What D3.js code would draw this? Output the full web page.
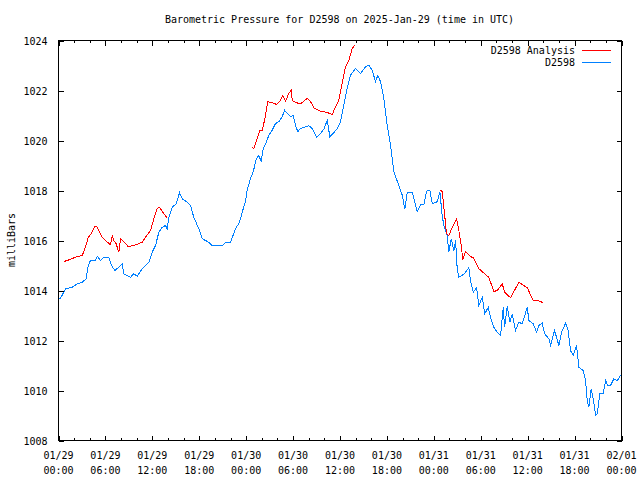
<!DOCTYPE html>
<html><head><meta charset="utf-8">
<script src="https://cdn.jsdelivr.net/npm/d3@7"></script>
<style>
html,body{margin:0;padding:0;background:#fff;}
text{font-family:"DejaVu Sans Mono","Liberation Mono",monospace;font-size:10px;fill:#000;}
</style></head>
<body>
<svg id="chart" width="640" height="480"></svg>
<script>
// Hours since 2025-01-29 00:00 UTC
const blueHours = [0,0.26,0.90,1.75,2.39,3.03,3.54,3.80,4.09,4.73,4.95,5.37,5.79,6.43,6.78,7.20,7.71,8.15,8.35,9.21,9.63,10.07,10.71,11.55,11.98,12.41,12.83,13.26,13.69,13.90,14.11,14.54,15.05,15.48,15.82,16.46,16.88,17.30,17.94,18.38,19.22,19.66,20.94,21.36,22.00,22.64,23.15,23.49,23.92,24.13,24.56,24.90,25.32,25.62,25.92,26.18,26.60,26.90,27.33,27.75,28.18,28.61,28.91,29.25,29.67,30.02,30.31,30.61,30.95,31.59,32.01,32.45,33.00,33.51,33.93,34.37,34.70,35.13,35.65,36.07,36.49,36.92,37.35,37.99,38.63,39.27,39.69,40.12,40.54,40.84,41.18,41.61,42.04,42.46,42.88,43.52,43.96,44.29,44.60,45.24,45.88,46.30,46.72,47.07,47.49,47.80,48.43,48.77,49.07,49.28,49.71,49.92,50.22,50.56,50.78,50.99,51.20,51.63,52.05,52.48,52.69,53.04,53.46,53.76,54.19,54.52,54.96,55.25,55.67,56.11,56.53,56.88,57.04,57.39,57.72,58.03,58.45,58.87,59.31,59.95,60.15,60.71,61.14,61.43,61.86,62.16,62.71,62.93,63.44,63.99,64.33,64.85,65.14,65.48,65.83,66.25,66.55,67.11,67.40,67.62,67.82,68.13,68.46,68.68,68.90,69.23,69.67,69.96,70.25,70.60,71.02,71.46,71.88];
const bluePressure = [1013.68,1013.69,1014.07,1014.13,1014.27,1014.33,1014.47,1015.00,1015.20,1015.20,1015.37,1015.20,1015.33,1015.33,1015.00,1014.80,1014.93,1015.07,1014.67,1014.53,1014.67,1014.57,1014.87,1015.13,1015.53,1015.80,1016.33,1016.53,1016.60,1016.47,1016.93,1017.33,1017.47,1017.91,1017.67,1017.53,1017.40,1016.93,1016.47,1016.07,1015.93,1015.80,1015.80,1015.91,1015.93,1016.47,1016.73,1017.13,1017.56,1018.01,1018.48,1018.75,1019.28,1019.41,1019.15,1019.68,1019.95,1020.21,1020.41,1020.68,1020.75,1020.95,1021.21,1021.08,1020.95,1021.01,1020.61,1020.35,1020.48,1020.55,1020.59,1020.48,1020.12,1020.28,1020.45,1020.81,1020.15,1020.28,1020.48,1020.75,1021.41,1022.08,1022.61,1022.88,1022.68,1022.95,1023.01,1022.81,1022.35,1022.61,1022.35,1021.68,1020.61,1019.81,1018.75,1018.21,1017.81,1017.25,1017.92,1017.92,1017.15,1017.44,1017.44,1017.97,1018.01,1017.48,1017.55,1017.95,1017.00,1016.60,1016.20,1015.53,1016.07,1015.60,1016.00,1014.87,1014.53,1014.60,1014.73,1014.91,1014.40,1013.93,1014.11,1013.40,1013.73,1013.07,1013.33,1012.93,1012.53,1012.33,1012.20,1013.33,1012.53,1013.36,1012.73,1013.07,1012.40,1012.73,1012.67,1013.33,1012.80,1012.67,1012.33,1012.60,1012.69,1012.27,1012.07,1011.80,1012.40,1011.80,1012.33,1012.69,1012.47,1011.60,1011.40,1011.80,1010.93,1010.80,1010.40,1009.60,1009.33,1010.07,1009.53,1009.00,1009.07,1009.87,1009.87,1010.40,1010.20,1010.20,1010.47,1010.40,1010.60];

// null = gap in the analysis series
const redHours = [0.68,1.11,2.17,3.03,3.45,3.80,4.09,4.64,4.95,5.59,6.01,6.65,6.87,7.07,7.38,7.71,7.93,8.35,8.91,9.63,10.71,11.13,11.77,12.19,12.62,12.92,13.47,13.90,
  19.0,
  24.77,24.98,25.41,25.75,26.05,26.35,26.77,27.33,27.88,28.39,28.69,29.03,29.45,29.76,29.89,30.31,30.95,31.81,32.23,32.74,33.51,34.37,35.01,35.43,35.85,36.28,36.71,37.13,37.56,37.86,
  43.0,
  48.77,49.07,49.37,49.62,49.92,50.35,50.90,51.20,51.50,51.71,52.05,52.69,53.04,53.76,54.61,55.03,55.67,56.11,56.75,57.04,57.81,58.87,59.95,60.71,61.30,61.99];
const redPressure = [1015.16,1015.20,1015.33,1015.40,1015.73,1016.13,1016.23,1016.57,1016.53,1016.13,1016.00,1015.83,1016.20,1016.00,1015.87,1015.53,1016.07,1015.96,1015.76,1015.80,1015.93,1016.13,1016.40,1016.87,1017.29,1017.33,1017.07,1016.91,
  null,
  1019.71,1019.68,1020.08,1020.41,1020.41,1020.81,1021.55,1021.52,1021.44,1021.61,1021.79,1021.57,1021.88,1022.01,1021.61,1021.52,1021.47,1021.68,1021.55,1021.28,1021.17,1021.12,1021.04,1021.35,1021.61,1022.28,1022.95,1023.21,1023.68,1023.81,
  null,
  1018.00,1017.97,1017.07,1016.27,1016.20,1016.53,1016.87,1016.40,1015.80,1015.23,1015.57,1015.36,1015.31,1014.87,1014.64,1014.53,1013.96,1014.00,1014.27,1013.93,1013.71,1014.33,1014.11,1013.60,1013.60,1013.51];

const yTicks = [1008,1010,1012,1014,1016,1018,1020,1022,1024];
const xMajorHours = [0,6,12,18,24,30,36,42,48,54,60,66,72];
const xLabelDates = ["01/29","01/29","01/29","01/29","01/30","01/30","01/30","01/30","01/31","01/31","01/31","01/31","02/01"];
const xLabelTimes = ["00:00","06:00","12:00","18:00","00:00","06:00","12:00","18:00","00:00","06:00","12:00","18:00","00:00"];
const xMinorHours = d3.range(0, 73, 2);

const titleText = "Barometric Pressure for D2598 on 2025-Jan-29 (time in UTC)";
const yLabelText = "milliBars";
const seriesNames = ["D2598 Analysis", "D2598"];
const seriesColors = ["#ff0000", "#0080ff"];

const L = 58, R = 621, T = 40, B = 440;
const svg = d3.select("#chart");
const x = d3.scaleLinear().domain([0, 72]).range([L, R]);
const y = d3.scaleLinear().domain([1008, 1024]).range([B, T]);

const g = svg.append("g").attr("transform", "translate(0.5,0.5)");

// data lines (clipped to plot)
svg.append("clipPath").attr("id", "clip").append("rect")
  .attr("x", L).attr("y", T).attr("width", R - L + 1).attr("height", B - T + 1);

const line = d3.line()
  .defined(d => d.p != null)
  .x(d => x(d.h)).y(d => y(d.p));

const blueData = blueHours.map((h, i) => ({h, p: bluePressure[i]}));
const redData = redHours.map((h, i) => ({h, p: redPressure[i]}));

const dataG = g.append("g").attr("clip-path", "url(#clip)");
dataG.append("path").datum(blueData).attr("d", line)
  .attr("fill", "none").attr("stroke", seriesColors[1]).attr("stroke-width", 1)
  .attr("shape-rendering", "crispEdges");
dataG.append("path").datum(redData).attr("d", line)
  .attr("fill", "none").attr("stroke", seriesColors[0]).attr("stroke-width", 1)
  .attr("shape-rendering", "crispEdges");

// axes via d3 axis generators (inward ticks, gnuplot style)
const axG = g.append("g").attr("shape-rendering", "crispEdges");
const yLeft = d3.axisLeft(y).tickValues(yTicks).tickSize(-5).tickPadding(11).tickFormat(d3.format("d"));
const yRight = d3.axisRight(y).tickValues(yTicks).tickSize(-5).tickFormat("");
const xBottomMinor = d3.axisBottom(x).tickValues(xMinorHours).tickSize(-2.5).tickFormat("");
const xBottomMajor = d3.axisBottom(x).tickValues(xMajorHours).tickSize(-5).tickFormat("");
const xTopMinor = d3.axisTop(x).tickValues(xMinorHours).tickSize(-2.5).tickFormat("");
const xTopMajor = d3.axisTop(x).tickValues(xMajorHours).tickSize(-5).tickFormat("");

function styleAxis(sel) {
  sel.select(".domain").remove();
  sel.selectAll("line").attr("stroke", "#000");
}
axG.append("g").attr("transform", `translate(${L},0)`).call(yLeft).call(styleAxis)
  .selectAll("text").attr("font-size", null).attr("font-family", null).attr("dy", "0.35em");
axG.append("g").attr("transform", `translate(${R},0)`).call(yRight).call(styleAxis);
axG.append("g").attr("transform", `translate(0,${B})`).call(xBottomMinor).call(styleAxis);
axG.append("g").attr("transform", `translate(0,${B})`).call(xBottomMajor).call(styleAxis);
axG.append("g").attr("transform", `translate(0,${T})`).call(xTopMinor).call(styleAxis);
axG.append("g").attr("transform", `translate(0,${T})`).call(xTopMajor).call(styleAxis);
axG.selectAll(".tick text").attr("font-size", null).attr("font-family", null);

// x labels (two lines)
const xl = g.append("g");
xMajorHours.forEach((h, i) => {
  const t = xl.append("text").attr("x", x(h)).attr("y", B + 18).attr("text-anchor", "middle");
  t.append("tspan").attr("x", x(h)).text(xLabelDates[i]);
  t.append("tspan").attr("x", x(h)).attr("dy", 15).text(xLabelTimes[i]);
});

// border
g.append("rect").attr("x", L).attr("y", T).attr("width", R - L).attr("height", B - T)
  .attr("fill", "none").attr("stroke", "#000").attr("shape-rendering", "crispEdges");

// title
svg.append("text").attr("x", (L + R) / 2).attr("y", 23).attr("text-anchor", "middle").text(titleText);

// y label
svg.append("text").attr("transform", `translate(15,${(T + B) / 2}) rotate(-90)`)
  .attr("text-anchor", "middle").text(yLabelText);

// legend
const legY = [50, 62];
seriesNames.forEach((name, i) => {
  svg.append("text").attr("x", 575).attr("y", legY[i]).attr("dy", "0.35em")
    .attr("text-anchor", "end").text(name);
  g.append("line").attr("x1", 581).attr("x2", 610).attr("y1", legY[i]).attr("y2", legY[i])
    .attr("stroke", seriesColors[i]).attr("shape-rendering", "crispEdges");
});
</script>
</body></html>
